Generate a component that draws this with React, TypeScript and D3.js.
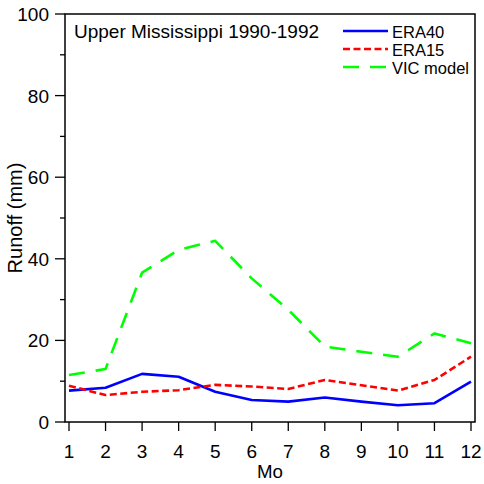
import React from "react";
import * as d3 from "d3";

// Monthly mean runoff (mm), Upper Mississippi 1990-1992
const months = [1, 2, 3, 4, 5, 6, 7, 8, 9, 10, 11, 12];
const era40 = [7.7, 8.4, 11.8, 11.1, 7.4, 5.4, 5.0, 6.0, 5.0, 4.1, 4.6, 9.9];
const era15 = [8.9, 6.6, 7.4, 7.8, 9.1, 8.7, 8.1, 10.3, 9.0, 7.7, 10.3, 16.0];
const vic = [11.5, 13.0, 36.6, 42.2, 44.4, 35.2, 27.5, 18.5, 17.2, 16.0, 21.7, 19.3];
const yTicks = [0, 20, 40, 60, 80, 100];
const yMinorTicks = [10, 30, 50, 70, 90];

const W = 484;
const H = 484;
const frame = { left: 65, right: 475, top: 14, bottom: 422 };
const FONT = "Liberation Sans, Arial, sans-serif";

const series = [
  { name: "ERA40", values: era40, color: "#0000ff", dash: "none" },
  { name: "ERA15", values: era15, color: "#ff0000", dash: "7,3.5" },
  { name: "VIC model", values: vic, color: "#00ff00", dash: "16,11" },
];

export default function App() {
  const x = d3.scaleLinear().domain([1, 12]).range([69, 471]);
  const y = d3.scaleLinear().domain([0, 100]).range([frame.bottom, frame.top]);
  const line = d3
    .line<number>()
    .x((_, i) => x(months[i]))
    .y((d) => y(d));

  return (
    <svg
      width={W}
      height={H}
      style={{ position: "absolute", left: 0, top: 0, background: "#fff" }}
      fontFamily={FONT}
    >
      <rect x={0} y={0} width={W} height={H} fill="#fff" />
      {/* data lines */}
      {series.map((s) => (
        <path
          key={s.name}
          d={line(s.values) || ""}
          fill="none"
          stroke={s.color}
          strokeWidth={2.6}
          strokeDasharray={s.dash}
          strokeLinejoin="round"
        />
      ))}
      {/* frame */}
      <rect
        x={frame.left}
        y={frame.top}
        width={frame.right - frame.left}
        height={frame.bottom - frame.top}
        fill="none"
        stroke="#000"
        strokeWidth={1.5}
      />
      {/* y axis ticks */}
      {yTicks.map((t) => (
        <g key={"y" + t}>
          <line x1={55} x2={frame.left} y1={y(t)} y2={y(t)} stroke="#000" strokeWidth={1.3} />
          <text x={49} y={y(t) + 7} textAnchor="end" fontSize={19} fill="#000">
            {t}
          </text>
        </g>
      ))}
      {yMinorTicks.map((t) => (
        <line key={"ym" + t} x1={60} x2={frame.left} y1={y(t)} y2={y(t)} stroke="#000" strokeWidth={1.3} />
      ))}
      {/* x axis ticks */}
      {months.map((m) => (
        <g key={"x" + m}>
          <line x1={x(m)} x2={x(m)} y1={frame.bottom} y2={frame.bottom + 9} stroke="#000" strokeWidth={1.3} />
          <text x={x(m)} y={458} textAnchor="middle" fontSize={19} fill="#000">
            {m}
          </text>
        </g>
      ))}
      <text x={270} y={478} textAnchor="middle" fontSize={18.7} fill="#000">
        Mo
      </text>
      <text
        transform={`translate(22,${(frame.top + frame.bottom) / 2}) rotate(-90)`}
        textAnchor="middle"
        fontSize={20}
        fill="#000"
      >
        Runoff (mm)
      </text>
      <text x={74} y={38} fontSize={19} fill="#000">
        Upper Mississippi 1990-1992
      </text>
      {/* legend */}
      {series.map((s, i) => {
        const ly = 31 + i * 18;
        return (
          <g key={"lg" + s.name}>
            <line
              x1={343}
              x2={388}
              y1={ly}
              y2={ly}
              stroke={s.color}
              strokeWidth={2.6}
              strokeDasharray={s.dash}
            />
            <text x={392} y={ly + 6.5} fontSize={16.5} fill="#000">
              {s.name}
            </text>
          </g>
        );
      })}
    </svg>
  );
}
